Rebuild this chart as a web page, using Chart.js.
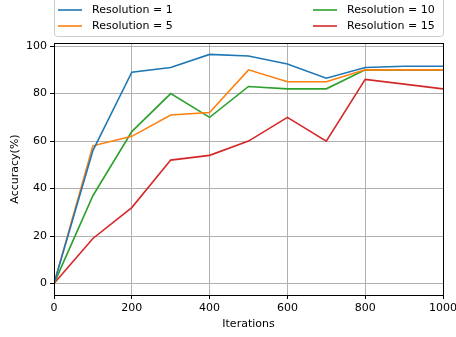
<!DOCTYPE html>
<html>
<head>
<meta charset="utf-8">
<script src="https://cdn.jsdelivr.net/npm/chart.js@4.4.1/dist/chart.umd.min.js"></script>
<style>
  html, body { margin: 0; padding: 0; background: #fff; }
</style>
</head>
<body>
<canvas id="accChart" width="456" height="337"></canvas>
<script>
const iterations = [0, 100, 200, 300, 400, 500, 600, 700, 800, 900, 1000];
const res1  = [0, 56, 89, 91, 96.5, 95.8, 92.5, 86.5, 91, 91.5, 91.5];
const res5  = [0, 58, 62, 71, 72, 90, 85, 85, 90, 90, 90];
const res10 = [0, 37, 64, 80, 70, 83, 82, 82, 90, 90, 90];
const res15 = [0, 19, 32, 52, 54, 60, 70, 60, 86, 84, 82];
const seriesLabels = ['Resolution = 1', 'Resolution = 5', 'Resolution = 10', 'Resolution = 15'];
const yTicks = [0, 20, 40, 60, 80, 100];

Chart.defaults.font.family = 'DejaVu Sans';
Chart.defaults.font.size = 11;
Chart.defaults.color = '#000';

const colors = ['#1f77b4', '#ff7f0e', '#2ca02c', '#d62728'];

const toPoints = (ys) => ys.map((y, i) => ({x: iterations[i], y: y}));

const datasets = [res1, res5, res10, res15].map((ys, i) => ({
    label: seriesLabels[i],
    data: toPoints(ys),
    borderColor: colors[i],
    backgroundColor: colors[i],
    borderWidth: 1.6,
    pointRadius: 0,
    tension: 0,
    fill: false
}));

// box around the plot + matplotlib-like legend above it
const framePlugin = {
    id: 'frame',
    afterDraw(chart) {
        const {ctx, chartArea: a} = chart;
        ctx.save();
        ctx.strokeStyle = '#000';
        ctx.lineWidth = 1;
        ctx.strokeRect(Math.round(a.left) + 0.5, Math.round(a.top) + 0.5,
            Math.round(a.right - a.left), Math.round(a.bottom - a.top));

        // legend frame
        ctx.fillStyle = 'rgba(255,255,255,0.8)';
        ctx.strokeStyle = '#cccccc';
        ctx.beginPath();
        ctx.roundRect(54.5, -10, 389, 46.5, 3);
        ctx.fill();
        ctx.stroke();

        const cols = [58, 313];
        const rows = [10, 26];
        ctx.font = '11px "DejaVu Sans"';
        ctx.textBaseline = 'middle';
        chart.data.datasets.forEach((ds, i) => {
            const x = cols[Math.floor(i / 2)];
            const y = rows[i % 2];
            ctx.strokeStyle = ds.borderColor;
            ctx.lineWidth = 1.6;
            ctx.beginPath();
            ctx.moveTo(x, y);
            ctx.lineTo(x + 24, y);
            ctx.stroke();
            ctx.fillStyle = '#000';
            ctx.fillText(ds.label, x + 34, y);
        });
        ctx.restore();
    }
};

const accChart = new Chart(document.getElementById('accChart'), {
    type: 'line',
    data: {datasets: datasets},
    options: {
        responsive: false,
        animation: false,
        devicePixelRatio: 1,
        layout: {padding: {top: 43, right: 13, left: 0, bottom: 0}},
        plugins: {
            legend: {display: false},
            tooltip: {enabled: false}
        },
        scales: {
            x: {
                type: 'linear',
                min: 0,
                max: 1000,
                ticks: {stepSize: 200, padding: 3, callback: (v) => String(v)},
                grid: {color: '#b0b0b0', tickColor: '#000', tickLength: 4},
                border: {color: '#000'},
                title: {display: true, text: 'Iterations', padding: {top: 2, bottom: 6}},
                afterFit: (scale) => {
                    scale.height = 42;
                    scale.paddingLeft = 0;
                    scale.paddingRight = 0;
                }
            },
            y: {
                type: 'linear',
                min: -4.8,
                max: 101.3,
                afterBuildTicks: (scale) => { scale.ticks = yTicks.map(v => ({value: v})); },
                ticks: {padding: 3},
                grid: {color: '#b0b0b0', tickColor: '#000', tickLength: 4},
                border: {color: '#000'},
                title: {display: true, text: 'Accuracy(%)', padding: {top: 9, bottom: 4}},
                afterFit: (scale) => { scale.width = 54; }
            }
        }
    },
    plugins: [framePlugin]
});
</script>
</body>
</html>
